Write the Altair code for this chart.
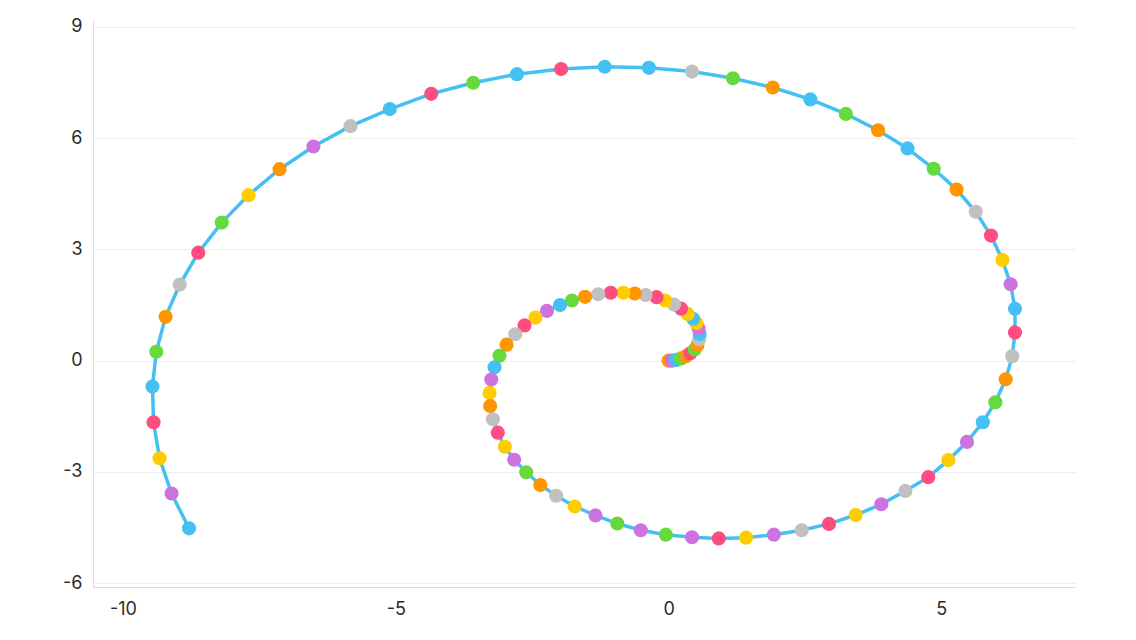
import altair as alt
import pandas as pd

# spiral points (origin outwards)
xs = [0.0, 0.06, 0.14, 0.23, 0.32, 0.40, 0.48, 0.53, 0.56, 0.57,
      0.55, 0.51, 0.45, 0.35, 0.23, 0.10, -0.06, -0.22, -0.42, -0.62,
      -0.83, -1.06, -1.29, -1.53, -1.77, -1.99, -2.23, -2.44, -2.64, -2.81,
      -2.97, -3.10, -3.19, -3.25, -3.28, -3.27, -3.22, -3.13, -3.00, -2.83,
      -2.61, -2.35, -2.06, -1.72, -1.34, -0.94, -0.51, -0.05, 0.43, 0.92,
      1.42, 1.93, 2.44, 2.94, 3.43, 3.90, 4.34, 4.76, 5.13, 5.47,
      5.76, 5.99, 6.18, 6.30, 6.35, 6.35, 6.27, 6.12, 5.91, 5.63,
      5.28, 4.86, 4.38, 3.84, 3.25, 2.60, 1.91, 1.18, 0.43, -0.36,
      -1.17, -1.97, -2.78, -3.58, -4.35, -5.11, -5.83, -6.51, -7.13, -7.70,
      -8.19, -8.62, -8.96, -9.22, -9.39, -9.46, -9.44, -9.33, -9.11, -8.79]
ys = [0.0, 0.0, 0.02, 0.06, 0.12, 0.20, 0.30, 0.42, 0.57, 0.72,
      0.87, 1.01, 1.13, 1.26, 1.40, 1.51, 1.62, 1.71, 1.77, 1.81,
      1.83, 1.83, 1.79, 1.72, 1.62, 1.50, 1.34, 1.16, 0.95, 0.71,
      0.43, 0.13, -0.18, -0.51, -0.87, -1.22, -1.58, -1.94, -2.32, -2.67,
      -3.01, -3.35, -3.64, -3.93, -4.17, -4.39, -4.57, -4.69, -4.76, -4.79,
      -4.77, -4.69, -4.57, -4.40, -4.16, -3.87, -3.51, -3.14, -2.68, -2.19,
      -1.66, -1.12, -0.50, 0.12, 0.76, 1.40, 2.06, 2.71, 3.37, 4.01,
      4.61, 5.17, 5.72, 6.21, 6.65, 7.04, 7.36, 7.61, 7.79, 7.89,
      7.92, 7.86, 7.72, 7.49, 7.19, 6.78, 6.32, 5.77, 5.16, 4.46,
      3.72, 2.91, 2.05, 1.18, 0.24, -0.70, -1.66, -2.63, -3.58, -4.52]
colors = ["orange", "purple", "blue", "green", "orange", "pink", "green", "orange", "gray", "blue",
          "purple", "yellow", "blue", "yellow", "pink", "gray", "yellow", "pink", "gray", "orange",
          "yellow", "pink", "gray", "orange", "green", "blue", "purple", "yellow", "pink", "gray",
          "orange", "green", "blue", "purple", "yellow", "orange", "gray", "pink", "yellow", "purple",
          "green", "orange", "gray", "yellow", "purple", "green", "purple", "green", "purple", "pink",
          "yellow", "purple", "gray", "pink", "yellow", "purple", "gray", "pink", "yellow", "purple",
          "blue", "green", "orange", "gray", "pink", "blue", "purple", "yellow", "pink", "gray",
          "orange", "green", "blue", "orange", "green", "blue", "orange", "green", "gray", "blue",
          "blue", "pink", "blue", "green", "pink", "blue", "gray", "purple", "orange", "yellow",
          "green", "pink", "gray", "orange", "green", "blue", "pink", "yellow", "purple", "blue"]

palette_names = ["blue", "orange", "gray", "pink", "yellow", "purple", "green"]
palette_hex = ["#45c0f2", "#ff9500", "#c0c0c0", "#ff4d80", "#ffcc00", "#cc73e1", "#66d93d"]

df = pd.DataFrame({"i": range(len(xs)), "x": xs, "y": ys, "c": colors})

x_enc = alt.X("x:Q", scale=alt.Scale(domain=[-10.55, 7.45], nice=False, zero=False),
              axis=alt.Axis(values=[-10, -5, 0, 5], grid=False, ticks=False, title=None,
                            labelPadding=13, labelExpr="'' + datum.value"))
y_enc = alt.Y("y:Q", scale=alt.Scale(domain=[-6.1, 9.18], nice=False, zero=False),
              axis=alt.Axis(values=[-6, -3, 0, 3, 6, 9], grid=True, ticks=False, title=None,
                            labelPadding=11, labelExpr="'' + datum.value"))

line = (
    alt.Chart(df)
    .mark_line(color="#45c0f2", strokeWidth=3.5)
    .encode(x=x_enc, y=y_enc, order="i:Q")
)

points = (
    alt.Chart(df)
    .mark_circle(size=200, opacity=1)
    .encode(
        x=x_enc,
        y=y_enc,
        color=alt.Color("c:N", scale=alt.Scale(domain=palette_names, range=palette_hex), legend=None),
        order="i:Q",
    )
)

chart = (
    (line + points)
    .properties(
        width=982,
        height=567,
        autosize=alt.AutoSizeParams(type="none"),
        padding={"left": 85, "top": 12, "right": 40, "bottom": 40},
    )
    .configure_view(stroke=None)
    .configure_axis(
        labelFont="Inter",
        labelFontSize=18,
        labelColor="#2a2a2a",
        domainColor="#dddddd",
        gridColor="#eeeeee",
        gridWidth=1,
    )
)

chart.save("out.html", embed_options={"renderer": "svg", "actions": False})
